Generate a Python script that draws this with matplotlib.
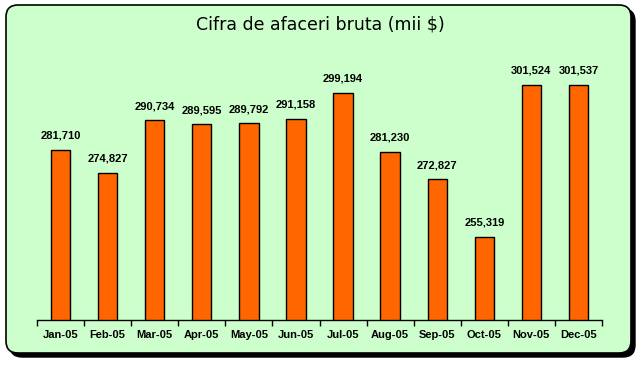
import matplotlib
matplotlib.use("Agg")
import matplotlib.pyplot as plt
from matplotlib.patches import FancyBboxPatch

months = ["Jan-05", "Feb-05", "Mar-05", "Apr-05", "May-05", "Jun-05",
          "Jul-05", "Aug-05", "Sep-05", "Oct-05", "Nov-05", "Dec-05"]
values = [281710, 274827, 290734, 289595, 289792, 291158,
          299194, 281230, 272827, 255319, 301524, 301537]
title = "Cifra de afaceri bruta (mii $)"

W, H = 641, 365
fig = plt.figure(figsize=(W / 100, H / 100), dpi=100)
fig.patch.set_facecolor("white")

def fx(px):
    return px / W

def fy(py):
    return 1 - py / H

# shadow and frame
x0, y0, x1, y1 = 6, 5, 631, 353
r = 12
shadow = FancyBboxPatch((fx(x0 + 4), fy(y1 + 4)), fx(x1 - x0), (y1 - y0) / H,
                        boxstyle=f"round,pad=0,rounding_size={r / W}",
                        transform=fig.transFigure, facecolor="black",
                        edgecolor="black", lw=1, mutation_aspect=W / H,
                        zorder=-3)
fig.patches.append(shadow)
frame = FancyBboxPatch((fx(x0), fy(y1)), fx(x1 - x0), (y1 - y0) / H,
                       boxstyle=f"round,pad=0,rounding_size={r / W}",
                       transform=fig.transFigure, facecolor="#CCFFCC",
                       edgecolor="black", lw=1.2, mutation_aspect=W / H,
                       zorder=-2)
fig.patches.append(frame)

ax_l, ax_r, ax_b, ax_t = 37, 602, 320, 57
ax = fig.add_axes([fx(ax_l), fy(ax_b), fx(ax_r - ax_l), (ax_b - ax_t) / H])
ax.set_facecolor("none")
ax.set_zorder(2)
xs = list(range(len(months)))
ax.bar(xs, values, width=0.41, color="#FF6600", edgecolor="black", lw=1.0,
       zorder=2)
ax.set_ylim(230000, 310000)
ax.set_xlim(-0.5, len(months) - 0.5)
for s in ["top", "right", "left"]:
    ax.spines[s].set_visible(False)
ax.spines["bottom"].set_linewidth(1.0)
ax.spines["bottom"].set_zorder(3)
ax.set_yticks([])
ax.set_xticks([i - 0.5 for i in range(len(months) + 1)], minor=False)
ax.set_xticklabels([])
ax.tick_params(axis="x", which="major", direction="out", length=4, width=1)
ax.set_xticks(xs, minor=True)
ax.set_xticklabels(months, minor=True, fontsize=8, fontweight="bold",
                   family="Liberation Sans")
ax.tick_params(axis="x", which="minor", length=0, pad=7)

for x, v in zip(xs, values):
    ax.annotate(f"{v:,}", (x, v), xytext=(0, 6.5), textcoords="offset points",
                ha="center", va="bottom", fontsize=8, fontweight="bold",
                family="Liberation Sans")

fig.text(fx(320), fy(25), title, ha="center", va="center", fontsize=12.5,
         family="DejaVu Sans")

fig.savefig("out.png", dpi=100)
